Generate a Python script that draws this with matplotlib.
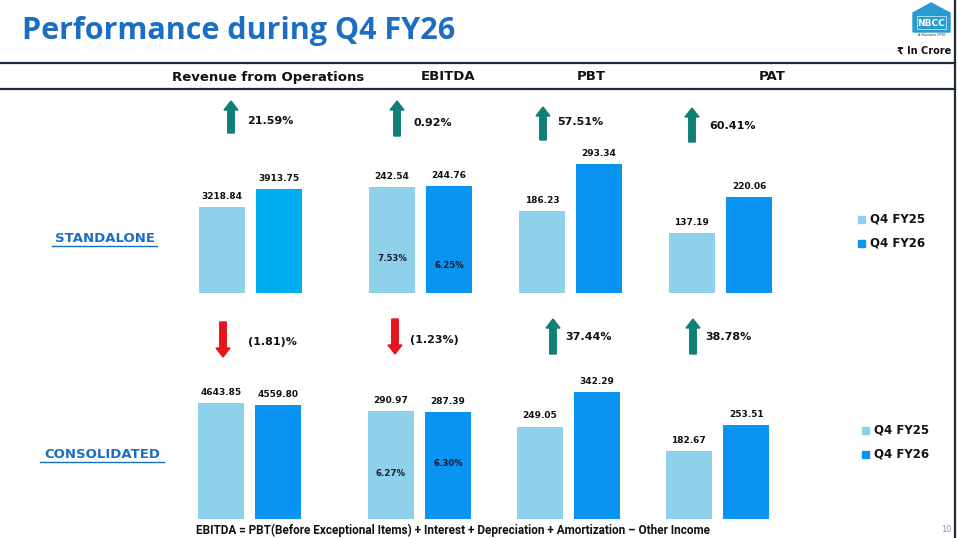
import matplotlib.pyplot as plt
from matplotlib.patches import FancyArrow, Polygon, Rectangle

# Datos del slide (Rs. crore)
metricas = ['Revenue from Operations', 'EBITDA', 'PBT', 'PAT']
periodos = ['Q4 FY25', 'Q4 FY26']
standalone_fy25 = [3218.84, 242.54, 186.23, 137.19]
standalone_fy26 = [3913.75, 244.76, 293.34, 220.06]
consolidated_fy25 = [4643.85, 290.97, 249.05, 182.67]
consolidated_fy26 = [4559.80, 287.39, 342.29, 253.51]
standalone_growth = ['21.59%', '0.92%', '57.51%', '60.41%']
consolidated_growth = ['(1.81)%', '(1.23%)', '37.44%', '38.78%']
standalone_up = [True, True, True, True]
consolidated_up = [False, False, True, True]
standalone_margin = ['7.53%', '6.25%']
consolidated_margin = ['6.27%', '6.30%']

W, H = 959, 538
AZUL = '#1b6ec2'
C25 = '#8fd1ea'
C26 = '#0a94f2'
C26_REV = '#00aeef'
VERDE = '#0f7f78'
ROJO = '#e8141b'
FUENTE = 'DejaVu Sans'

fig = plt.figure(figsize=(W / 100, H / 100), dpi=100)

# Capa de fondo en pixeles
ax0 = fig.add_axes([0, 0, 1, 1])
ax0.set_xlim(0, W)
ax0.set_ylim(H, 0)
ax0.axis('off')


def rect(left, top, width, height):
    return [left / W, 1 - (top + height) / H, width / W, height / H]


# Titulo y lineas del encabezado
ax0.text(22, 31, 'Performance during Q4 FY26', fontsize=22, fontweight='bold',
         color=AZUL, family='Open Sans', va='center', ha='left')
ax0.plot([0, 955], [63, 63], color='#1e2b3c', lw=1.6)
ax0.plot([0, 955], [89, 89], color='#1e2b3c', lw=1.6)
ax0.plot([955, 955], [0, H], color='#1e2b3c', lw=1.6)

# Logo
ax0.add_patch(Polygon([[913, 13], [931, 3], [950, 13], [950, 32], [913, 32]],
                      closed=True, color='#2a9bd1'))
ax0.add_patch(Rectangle((917, 16), 29, 13, fill=False, ec='#bfe6f5', lw=0.6))
ax0.text(931.5, 23, 'NBCC', fontsize=6.5, fontweight='bold', color='white',
         family=FUENTE, ha='center', va='center')
ax0.text(931.5, 35.5, 'A Navratna CPSE', fontsize=2.3, color='#333333',
         ha='center', va='center')
ax0.text(951, 51, '₹ In Crore', fontsize=7, fontweight='bold', color='#111111',
         family=FUENTE, ha='right', va='center')

# Encabezados de columnas
col_x = [268, 448, 591, 772]
for m, x in zip(metricas, col_x):
    ax0.text(x, 77, m, fontsize=9.5, fontweight='bold', color='#111111',
             family=FUENTE, ha='center', va='center')

# Etiquetas de fila (subrayadas)
for txt, x0, x1, y in [('STANDALONE', 52, 157, 238), ('CONSOLIDATED', 40, 164, 454)]:
    ax0.text((x0 + x1) / 2, y, txt, fontsize=9.5, fontweight='bold', color=AZUL,
             family=FUENTE, ha='center', va='center')
    ax0.plot([x0, x1], [y + 8, y + 8], color=AZUL, lw=1)

# Pie de pagina
ax0.text(453, 530, 'EBITDA = PBT(Before Exceptional Items) + Interest + Depreciation + Amortization \u2013 Other Income',
         fontsize=8.5, fontweight='bold', color='#111111', family='Roboto',
         ha='center', va='center')
ax0.text(946, 529, '10', fontsize=6, color='#999999', ha='center', va='center')

# Layout de cada fila: base de barras, alto maximo en px, flechas y textos
filas = [
    dict(fy25=standalone_fy25, fy26=standalone_fy26, growth=standalone_growth,
         up=standalone_up, margin=standalone_margin, base=293,
         hmax=[104, 107, 129, 96], lefts=[199, 369, 519, 669],
         arrow_x=[231, 397, 543, 692], arrow_top=[101, 101, 107, 108],
         arrow_bot=[133, 136, 140, 142],
         txt_x=[247, 413, 557, 709], txt_y=[121, 123, 122, 126],
         margin_pos=[0.33, 0.26], leg_y=[219, 243], leg_x=858),
    dict(fy25=consolidated_fy25, fy26=consolidated_fy26, growth=consolidated_growth,
         up=consolidated_up, margin=consolidated_margin, base=519,
         hmax=[116, 108, 127, 94], lefts=[198, 368, 517, 666],
         arrow_x=[223, 395, 553, 693], arrow_top=[322, 319, 319, 319],
         arrow_bot=[357, 354, 354, 354],
         txt_x=[248, 410, 565, 705], txt_y=[342, 340, 337, 337],
         margin_pos=[0.42, 0.52], leg_y=[430, 454], leg_x=862),
]

for fila in filas:
    for i in range(4):
        vals = [fila['fy25'][i], fila['fy26'][i]]
        h = fila['hmax'][i]
        ax = fig.add_axes(rect(fila['lefts'][i], fila['base'] - h, 103, h))
        ax.patch.set_alpha(0)
        col2 = C26_REV if (i == 0 and fila['base'] == 293) else C26
        bars = ax.bar([0, 1], vals, width=0.8, color=[C25, col2])
        ax.set_xlim(-0.4, 1.4)
        ax.set_ylim(0, max(vals))
        ax.axis('off')
        for b, v in zip(bars, vals):
            ax.annotate(f'{v:.2f}', (b.get_x() + b.get_width() / 2, v),
                        xytext=(0, 4.5), textcoords='offset points',
                        ha='center', va='bottom', fontsize=6.5, fontweight='bold',
                        family=FUENTE, color='#111111', annotation_clip=False)
        if i == 1:
            for j, (v, f) in enumerate(zip(vals, fila['margin_pos'])):
                ax.text(j, v * f, fila['margin'][j], ha='center', va='center',
                        fontsize=6.2, fontweight='bold', family=FUENTE, color='#1a1a2e')

        # Flecha de variacion
        x = fila['arrow_x'][i]
        top, bot = fila['arrow_top'][i], fila['arrow_bot'][i]
        if fila['up'][i]:
            arr = FancyArrow(x, bot, 0, top - bot, width=6.5, head_width=14,
                             head_length=9, length_includes_head=True, color=VERDE)
        else:
            arr = FancyArrow(x, top, 0, bot - top, width=6.5, head_width=14,
                             head_length=9, length_includes_head=True, color=ROJO)
        ax0.add_patch(arr)
        ax0.text(fila['txt_x'][i], fila['txt_y'][i], fila['growth'][i], fontsize=8,
                 fontweight='bold', family=FUENTE, color='#111111',
                 ha='left', va='center')

    # Leyenda
    leg_colors = [C25, C26]
    for y, c, lab in zip(fila['leg_y'], leg_colors, periodos):
        ax0.add_patch(Rectangle((fila['leg_x'], y - 3.5), 7, 7, color=c))
        ax0.text(fila['leg_x'] + 12, y, lab, fontsize=8.5, fontweight='bold',
                 family=FUENTE, color='#111111', ha='left', va='center')

fig.savefig('out.png', dpi=100)
